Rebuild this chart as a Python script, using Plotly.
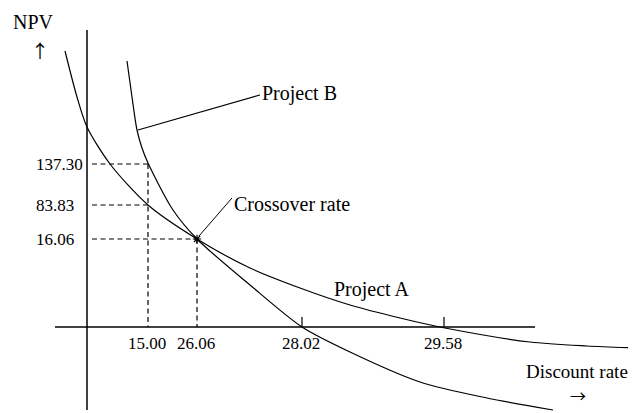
import plotly.graph_objects as go

# Schematic NPV-profile diagram (units: diagram units, origin where the axes cross)
# Project A NPV profile (schematic)
proj_a_x = [-22, -10, 0, 23, 61, 110, 163, 213, 263, 313, 358, 443, 500, 549]
proj_a_y = [276, 230, 200, 163, 122, 88, 59, 39, 22, 9, -1, -15, -19, -21]
# Project B NPV profile (schematic)
proj_b_x = [40, 45, 50, 55, 61, 86, 110, 163, 215, 263, 333, 400, 466]
proj_b_y = [266, 230, 197, 179, 164, 117, 88, 42, 0, -25, -55, -71, -83]

npv_labels = ["137.30", "83.83", "16.06"]
npv_pos = [163, 122, 88]
rate_labels = ["15.00", "26.06", "28.02", "29.58"]
rate_pos = [61, 110, 215, 357]
crossover = (110, 88)

SERIF = "Liberation Serif, Times New Roman, serif"
ARROWFONT = "Noto Sans CJK JP, DejaVu Sans, sans-serif"
BLACK = "black"

fig = go.Figure()

# axes
fig.add_trace(go.Scatter(x=[0, 0], y=[297, -83], mode="lines", line=dict(color=BLACK, width=1.5), hoverinfo="skip"))
fig.add_trace(go.Scatter(x=[-32, 448], y=[0, 0], mode="lines", line=dict(color=BLACK, width=1.5), hoverinfo="skip"))

# curves
fig.add_trace(go.Scatter(x=proj_a_x, y=proj_a_y, mode="lines", line=dict(color=BLACK, width=1.2, shape="spline", smoothing=0.8), hoverinfo="skip"))
fig.add_trace(go.Scatter(x=proj_b_x, y=proj_b_y, mode="lines", line=dict(color=BLACK, width=1.2, shape="spline", smoothing=0.8), hoverinfo="skip"))

# dashed guide lines
DASH = dict(color=BLACK, width=1.2, dash="5px,3.5px")
hx_end = [rate_pos[0], rate_pos[0], rate_pos[1]]
for yv, xe in zip(npv_pos, hx_end):
    fig.add_trace(go.Scatter(x=[5, xe], y=[yv, yv], mode="lines", line=DASH, hoverinfo="skip"))
fig.add_trace(go.Scatter(x=[rate_pos[0], rate_pos[0]], y=[npv_pos[0], 0], mode="lines", line=DASH, hoverinfo="skip"))
fig.add_trace(go.Scatter(x=[rate_pos[1], rate_pos[1]], y=[npv_pos[2], 0], mode="lines", line=DASH, hoverinfo="skip"))

# IRR ticks
for xv in rate_pos[2:]:
    fig.add_trace(go.Scatter(x=[xv, xv], y=[0, 10], mode="lines", line=dict(color=BLACK, width=1.2), hoverinfo="skip"))

# leader lines
fig.add_trace(go.Scatter(x=[51, 173], y=[197, 232], mode="lines", line=dict(color=BLACK, width=1.2), hoverinfo="skip"))
fig.add_trace(go.Scatter(x=[112, 145], y=[91, 129], mode="lines", line=dict(color=BLACK, width=1.0), hoverinfo="skip"))
# crossover mark
fig.add_trace(go.Scatter(x=[crossover[0]], y=[crossover[1]], mode="markers",
                         marker=dict(symbol="asterisk-open", size=7, color=BLACK, line=dict(color=BLACK, width=1.2)),
                         hoverinfo="skip"))

ann = []
def txt(x, y, s, xa="center", size=20, family=SERIF):
    ann.append(dict(x=x, y=y, xref="x", yref="y", text=s, showarrow=False, xanchor=xa, yanchor="middle",
                    font=dict(family=family, size=size, color=BLACK)))

txt(-54, 305, "NPV")
txt(-47, 277, "↑", size=18, family=ARROWFONT)
for lab, yv in zip(npv_labels, npv_pos):
    txt(-53, yv, lab, xa="left", size=17)
for lab, xv in zip(rate_labels, rate_pos):
    txt(xv - 1, -16, lab, size=17)
txt(173, 234, "Project B", xa="left")
txt(145, 123, "Crossover rate", xa="left")
txt(245, 38, "Project A", xa="left")
txt(437, -44, "Discount rate", xa="left", size=19)
txt(491, -68, "→", size=16, family=ARROWFONT)

# page body has an 8px margin: figure is offset by 8px, ranges compensate
fig.update_layout(
    width=628, height=405, margin=dict(l=0, r=0, t=0, b=0),
    paper_bgcolor="white", plot_bgcolor="white", showlegend=False,
    annotations=ann,
    xaxis=dict(range=[-79, 549], visible=False, fixedrange=True),
    yaxis=dict(range=[-86, 319], visible=False, fixedrange=True),
)
fig.write_html("out.html")
